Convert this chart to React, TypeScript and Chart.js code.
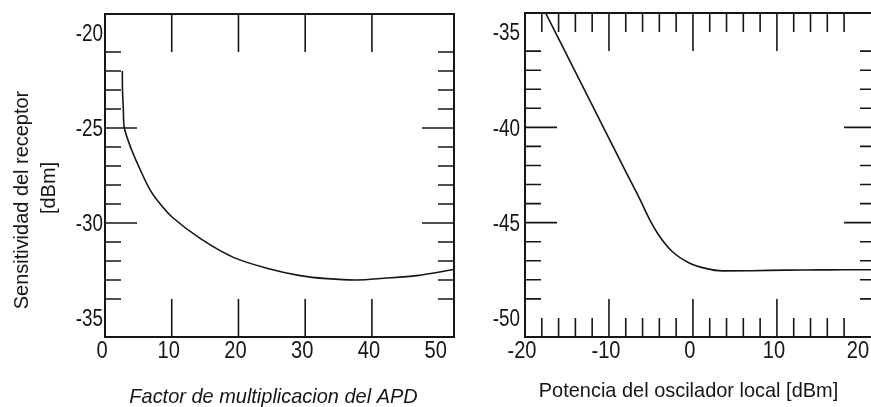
import React, { useEffect, useRef } from "react";
import { Chart, registerables } from "chart.js";

Chart.register(...registerables);

// ---- Left chart: receiver sensitivity vs APD multiplication factor ----
const apdGain = [2.6, 2.62, 2.75, 2.9, 4.0, 5.5, 6.75, 7.8, 10, 14.25, 19.25, 24.25, 29.25, 33.25, 37.75, 41.75, 46.75, 52.3];
const apdSensitivity = [-22.0, -23.0, -24.0, -25.0, -26.16, -27.37, -28.26, -28.79, -29.67, -30.81, -31.81, -32.38, -32.77, -32.93, -33.0, -32.91, -32.77, -32.45];
const apdTickLabels = [0, 10, 20, 30, 40, 50];
const apdMajorTicks = [10, 20, 30, 40];
const leftSensTickLabels = [-20, -25, -30, -35];
const leftSensMajorTicks = [-25, -30];
const leftSensMinorTicks = [-21, -22, -23, -24, -26, -27, -28, -29, -31, -32, -33, -34];

// ---- Right chart: receiver sensitivity vs local oscillator power ----
const loPower = [-17.55, -12, -8, -6.4, -5.2, -4.0, -2.5, -0.5, 1.5, 3.5, 7, 11, 15, 18, 21.8];
const loSensitivity = [-34.0, -38.83, -42.32, -43.7, -44.8, -45.7, -46.5, -47.1, -47.4, -47.53, -47.52, -47.49, -47.48, -47.47, -47.47];
const loTickLabels = [-20, -10, 0, 10, 20];
const loMajorTicks = [-10, 0, 10];
const loMinorTicks = [-18, -16, -14, -12, -8, -6, -4, -2, 2, 4, 6, 8, 12, 14, 16, 18];
const rightSensTickLabels = [-35, -40, -45, -50];
const rightSensMajorTicks = [-40, -45];
const rightSensMinorTicks = [-36, -37, -38, -39, -41, -42, -43, -44, -46, -47, -48, -49];

const leftYTitle = ["Sensitividad del receptor", "[dBm]"];
const leftXTitle = "Factor de multiplicacion del APD";
const rightXTitle = "Potencia del oscilador local [dBm]";

const FONT = "'Liberation Sans', Arial, 'DejaVu Sans', sans-serif";
const TICK_SCALE = 0.82;
const TITLE_SCALE = 0.95;
const INK = "#161616";

function narrowText(ctx: any, text: string, x: number, y: number, size: number, opts: any = {}) {
  ctx.save();
  ctx.font = `${opts.italic ? "italic " : ""}${size}px ${FONT}`;
  ctx.textAlign = opts.align || "center";
  ctx.textBaseline = "alphabetic";
  ctx.translate(x, y);
  if (opts.rotate) ctx.rotate(opts.rotate);
  ctx.scale(opts.scale || TICK_SCALE, 1);
  ctx.fillText(text, 0, 0);
  ctx.restore();
}

const frameTicksPlugin = {
  id: "frameTicks",
  afterDatasetsDraw(chart: any, _args: any, opts: any) {
    const { ctx, chartArea } = chart;
    const { left, right, top, bottom } = chartArea;
    const xs = chart.scales.x;
    const ys = chart.scales.y;
    ctx.save();
    ctx.strokeStyle = INK;
    ctx.lineWidth = 1.6;
    ctx.lineCap = "butt";
    const drawX = (vals: number[], len: number) => {
      vals.forEach((v) => {
        const p = xs.getPixelForValue(v);
        ctx.beginPath();
        ctx.moveTo(p, bottom);
        ctx.lineTo(p, bottom - len);
        ctx.moveTo(p, top);
        ctx.lineTo(p, top + len);
        ctx.stroke();
      });
    };
    const drawY = (vals: number[], len: number) => {
      vals.forEach((v) => {
        const p = ys.getPixelForValue(v);
        ctx.beginPath();
        ctx.moveTo(left, p);
        ctx.lineTo(left + len, p);
        ctx.moveTo(right, p);
        ctx.lineTo(right - len, p);
        ctx.stroke();
      });
    };
    drawX(opts.xMajor || [], opts.xMajorLen || 38);
    drawX(opts.xMinor || [], opts.xMinorLen || 19);
    drawY(opts.yMajor || [], opts.yMajorLen || 32);
    drawY(opts.yMinor || [], opts.yMinorLen || 16);
    ctx.lineWidth = 2;
    ctx.strokeRect(left, top, right - left, bottom - top);
    ctx.restore();

    // tick labels, positioned through the scales
    ctx.save();
    ctx.fillStyle = INK;
    xs.ticks.forEach((t: any) => {
      const p = xs.getPixelForValue(t.value);
      narrowText(ctx, String(t.value), p + opts.xLabelOffset, opts.xLabelBaseline, 24.5);
    });
    ys.ticks.forEach((t: any) => {
      const p = ys.getPixelForValue(t.value);
      narrowText(ctx, String(t.value), left - opts.yLabelGap, p + 8.2, 23, { align: "right" });
    });
    ctx.restore();
  },
};

const titlesPlugin = {
  id: "titlesText",
  afterDraw(chart: any, _args: any, opts: any) {
    const { ctx } = chart;
    ctx.save();
    ctx.fillStyle = INK;
    (opts.items || []).forEach((it: any) => {
      narrowText(ctx, it.text, it.x, it.y, it.size, { italic: it.italic, rotate: it.rotate, scale: TITLE_SCALE });
    });
    ctx.restore();
  },
};

function makeConfig(p: any) {
  return {
    type: "line",
    data: {
      datasets: [
        {
          data: p.xs.map((x: number, i: number) => ({ x, y: p.ys[i] })),
          borderColor: INK,
          borderWidth: 1.6,
          pointRadius: 0,
          fill: false,
          tension: p.tension,
          cubicInterpolationMode: p.monotone ? "monotone" : "default",
        },
      ],
    },
    options: {
      responsive: false,
      animation: false,
      devicePixelRatio: 1,
      events: [],
      layout: { padding: p.padding },
      plugins: {
        legend: { display: false },
        tooltip: { enabled: false },
        frameTicks: p.frame,
        titlesText: { items: p.titles },
      },
      scales: {
        x: {
          type: "linear",
          min: p.xMin,
          max: p.xMax,
          grid: { display: false },
          border: { display: false },
          afterBuildTicks: (s: any) => {
            s.ticks = p.xTicks.map((v: number) => ({ value: v }));
          },
          afterFit: (s: any) => {
            s.height = p.xHeight;
          },
          ticks: { display: false },
        },
        y: {
          type: "linear",
          min: p.yMin,
          max: p.yMax,
          grid: { display: false },
          border: { display: false },
          afterBuildTicks: (s: any) => {
            s.ticks = p.yTicks.map((v: number) => ({ value: v }));
          },
          afterFit: (s: any) => {
            s.width = p.yWidth;
          },
          ticks: { display: false },
        },
      },
    },
    plugins: [frameTicksPlugin, titlesPlugin],
  };
}

function ChartCanvas({ config, width, height }: any) {
  const ref = useRef<HTMLCanvasElement | null>(null);
  useEffect(() => {
    if (!ref.current) return;
    const chart = new Chart(ref.current, config);
    return () => chart.destroy();
  }, []);
  return <canvas ref={ref} width={width} height={height} style={{ display: "block", width, height }} />;
}

const leftConfig = makeConfig({
  xs: apdGain,
  ys: apdSensitivity,
  tension: 0.3,
  monotone: false,
  xMin: 0,
  xMax: 52.3,
  yMin: -36,
  yMax: -19,
  xTicks: apdTickLabels,
  yTicks: leftSensTickLabels,
  padding: { left: 0, right: 6, top: 14, bottom: 0 },
  yWidth: 105,
  xHeight: 70,
  frame: {
    xMajor: apdMajorTicks,
    xMinor: [],
    yMajor: leftSensMajorTicks,
    yMinor: leftSensMinorTicks,
    xMajorLen: 38,
    yMajorLen: 32,
    yMinorLen: 16,
    xLabelOffset: -3,
    xLabelBaseline: 358,
    yLabelGap: 2,
  },
  titles: [
    { text: leftYTitle[0], x: 28, y: 200, size: 21, rotate: -Math.PI / 2 },
    { text: leftYTitle[1], x: 55, y: 188, size: 21, rotate: -Math.PI / 2 },
    { text: leftXTitle, x: 273.5, y: 403, size: 21, italic: true },
  ],
});

const rightConfig = makeConfig({
  xs: loPower,
  ys: loSensitivity,
  tension: 0,
  monotone: true,
  xMin: -20,
  xMax: 21.8,
  yMin: -51,
  yMax: -34,
  xTicks: loTickLabels,
  yTicks: rightSensTickLabels,
  padding: { left: 0, right: 14, top: 13, bottom: 0 },
  yWidth: 65,
  xHeight: 70,
  frame: {
    xMajor: loMajorTicks,
    xMinor: loMinorTicks,
    yMajor: rightSensMajorTicks,
    yMinor: rightSensMinorTicks,
    xMajorLen: 38,
    xMinorLen: 19,
    yMajorLen: 32,
    yMinorLen: 16,
    xLabelOffset: -3,
    xLabelBaseline: 358,
    yLabelGap: 5,
  },
  titles: [{ text: rightXTitle, x: 228.5, y: 397, size: 21 }],
});

export default function App() {
  return (
    <div
      style={{
        position: "absolute",
        left: 0,
        top: 0,
        width: 871,
        height: 407,
        overflow: "hidden",
        background: "#ffffff",
      }}
    >
      <div style={{ position: "absolute", left: 0, top: 0 }}>
        <ChartCanvas config={leftConfig} width={460} height={407} />
      </div>
      <div style={{ position: "absolute", left: 460, top: 0 }}>
        <ChartCanvas config={rightConfig} width={430} height={407} />
      </div>
    </div>
  );
}
